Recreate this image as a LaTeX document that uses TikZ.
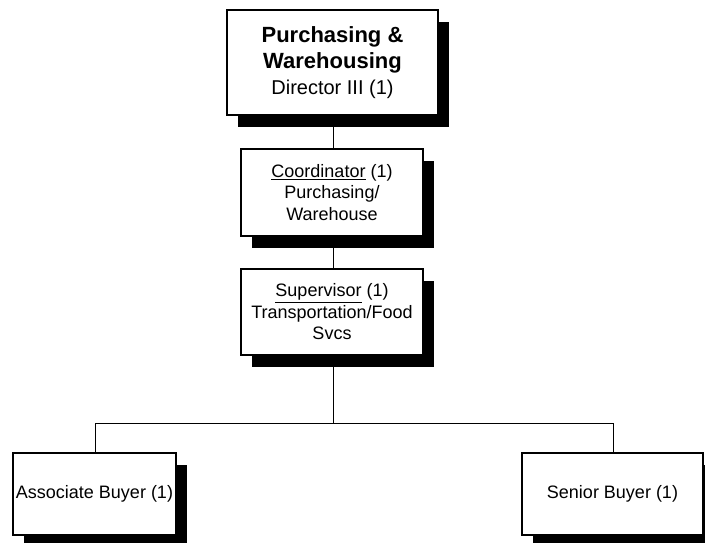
\documentclass[tikz,border=0pt]{standalone}
\usepackage{fontspec}
\setmainfont{Liberation Sans}
\usetikzlibrary{shadows}
\begin{document}
\begin{tikzpicture}[x=1pt,y=-1pt,
  orgbox/.style={draw=black, line width=1.5pt, fill=white, rectangle,
    inner sep=0pt, align=center,
    drop shadow={shadow xshift=10.5pt, shadow yshift=-11.5pt, opacity=1, fill=black},
    font=\fontsize{18}{21.5}\selectfont},
  link/.style={draw=black, line width=0.8pt}]
\useasboundingbox (0,0) rectangle (705,542);

% connector coordinates
\coordinate (bus) at (333,423);
\coordinate (busL) at (95,423);
\coordinate (busR) at (613,423);

% connectors, drawn first so the shadows sit over them
\draw[link] (333,115) -- (333,149);
\draw[link] (333,236) -- (333,269);
\draw[link] (333,355) -- (bus);
\draw[link] (busL) -- (busR);
\draw[link] (busL) -- (95,453);
\draw[link] (busR) -- (613,453);

% boxes
\node[orgbox, minimum width=211pt, minimum height=105pt,
      font=\fontsize{22}{26}\selectfont] (dir) at (332.5,62.5)
  {\bfseries Purchasing \&\\
   \bfseries Warehousing\\
   \fontsize{20}{25}\selectfont Director III (1)};
\node[orgbox, minimum width=182pt, minimum height=87pt] (coord) at (332,192.5)
  {\underline{Coordinator} (1)\\Purchasing/\\Warehouse};
\node[orgbox, minimum width=182pt, minimum height=86pt] (sup) at (332,312)
  {\underline{Supervisor} (1)\\Transportation/Food\\Svcs};
\node[orgbox, minimum width=163pt, minimum height=82pt] (assoc) at (94.5,494)
  {Associate Buyer (1)};
\node[orgbox, minimum width=181pt, minimum height=82pt] (senior) at (612.5,494)
  {Senior Buyer (1)};
\end{tikzpicture}
\end{document}
